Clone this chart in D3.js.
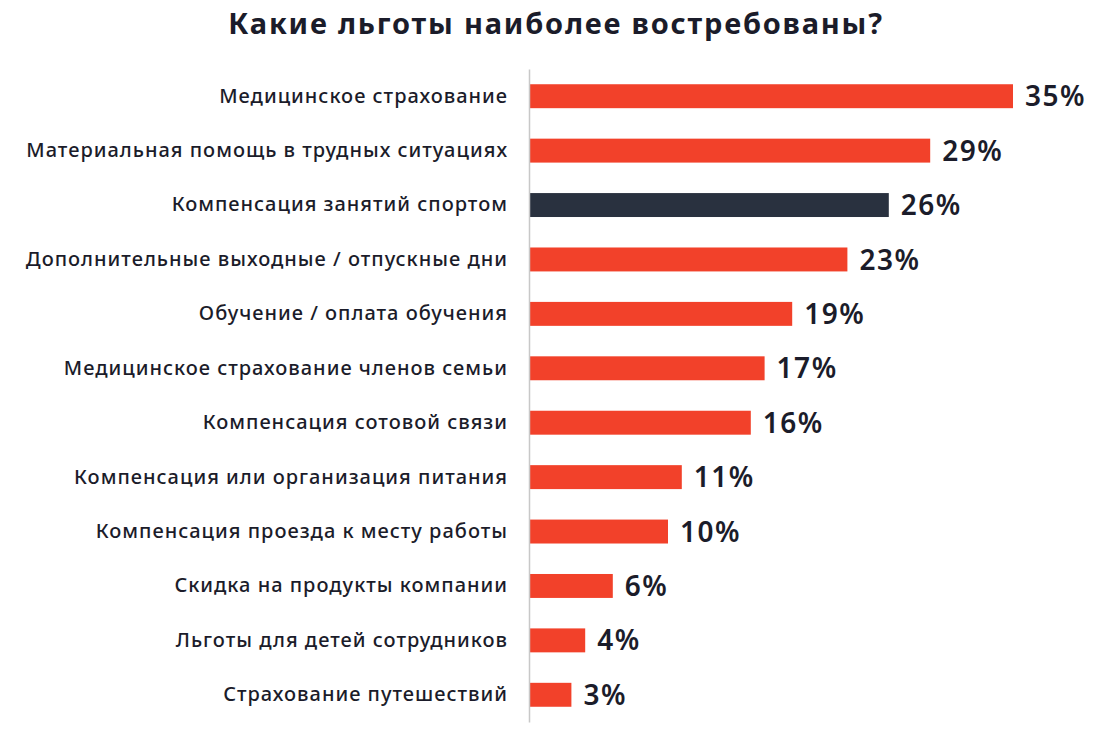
<!DOCTYPE html>
<html>
<head>
<meta charset="utf-8">
<script src="https://cdn.jsdelivr.net/npm/d3@7"></script>
<style>
  body { margin: 0; background: #fff; }
  text { font-family: "Noto Sans", "DejaVu Sans", sans-serif; }
</style>
</head>
<body>
<div id="svg_chart"></div>
<script>
// data
var categories = [
  'Медицинское страхование',
  'Материальная помощь в трудных ситуациях',
  'Компенсация занятий спортом',
  'Дополнительные выходные / отпускные дни',
  'Обучение / оплата обучения',
  'Медицинское страхование членов семьи',
  'Компенсация сотовой связи',
  'Компенсация или организация питания',
  'Компенсация проезда к месту работы',
  'Скидка на продукты компании',
  'Льготы для детей сотрудников',
  'Страхование путешествий'
];
var values = [35, 29, 26, 23, 19, 17, 16, 11, 10, 6, 4, 3];
var highlighted = ['Компенсация занятий спортом'];
var title = 'Какие льготы наиболее востребованы?';

const svg_width = 1120
const svg_height = 733
const red = '#f2412a'
const navy = '#29313f'
const ink = '#1b1c2a'

var svg = d3.select('#svg_chart').append('svg')
  .attr('width', svg_width)
  .attr('height', svg_height);

var rows = categories.map(function(c, i){ return {name: c, value: values[i]}; });

var x = d3.scaleLinear().domain([0, 35]).range([530, 1013]);
var y = d3.scaleBand().domain(categories).range([69, 722])
  .paddingInner(0.56).paddingOuter(0.28);

// title
svg.append('text')
  .attr('x', 556)
  .attr('y', 34)
  .attr('text-anchor', 'middle')
  .attr('font-size', 29)
  .attr('font-weight', 700)
  .attr('letter-spacing', 1.8)
  .attr('fill', ink)
  .text(title);

// bars
svg.selectAll('rect.bar').data(rows).enter().append('rect')
  .attr('class', 'bar')
  .attr('x', x(0))
  .attr('y', function(d){ return y(d.name); })
  .attr('width', function(d){ return x(d.value) - x(0); })
  .attr('height', y.bandwidth())
  .attr('fill', function(d){ return highlighted.includes(d.name) ? navy : red; });

// value labels
svg.selectAll('text.val').data(rows).enter().append('text')
  .attr('class', 'val')
  .attr('x', function(d){ return x(d.value) + 12; })
  .attr('y', function(d){ return y(d.name) + y.bandwidth() / 2; })
  .attr('dy', '0.36em')
  .attr('font-size', 28)
  .attr('font-weight', 600)
  .attr('letter-spacing', 1.5)
  .attr('fill', ink)
  .text(function(d){ return d.value + '%'; });

// category axis
var axis = svg.append('g')
  .attr('transform', 'translate(529,0)')
  .call(d3.axisLeft(y).tickSize(0).tickSizeOuter(0).tickPadding(21));
axis.select('.domain').attr('stroke', '#c8c8c8').attr('stroke-width', 1.5);
axis.selectAll('.tick text')
  .attr('font-family', '"Noto Sans", sans-serif')
  .attr('font-size', 20)
  .attr('font-weight', 500)
  .attr('letter-spacing', 1)
  .attr('fill', ink);
</script>
</body>
</html>
